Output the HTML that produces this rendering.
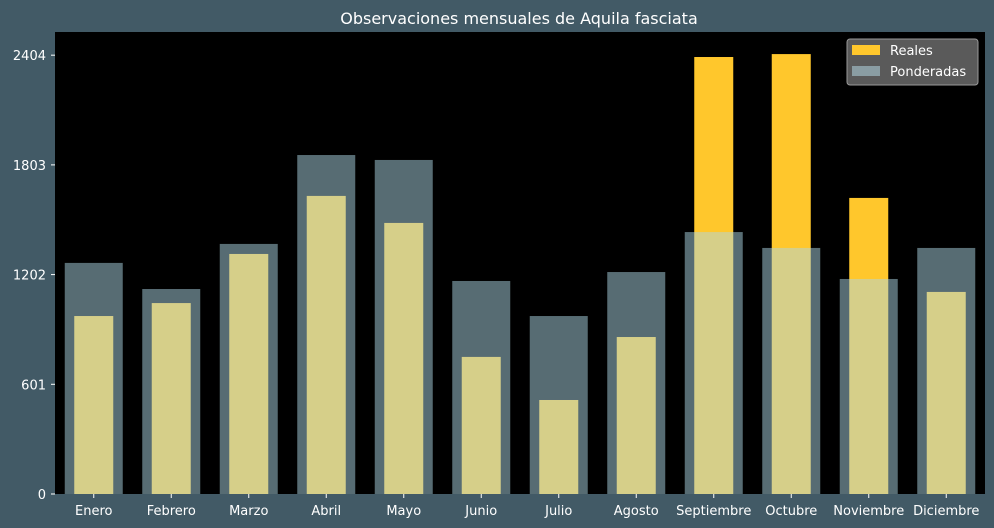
<!DOCTYPE html>
<html><head><meta charset="utf-8"><style>
body{margin:0;background:#425a66;}
svg{display:block;font-family:"DejaVu Sans","Liberation Sans",sans-serif;}
</style></head><body>
<svg id="chart" width="994" height="528" viewBox="0 0 994 528">
<rect x="0" y="0" width="994" height="528" fill="#425a66"/>
<text x="519" y="24" fill="#ffffff" font-size="16" text-anchor="middle">Observaciones mensuales de Aquila fasciata</text>
<rect x="55" y="32" width="930" height="462" fill="#000000"/>
<g id="bars"></g>
<g id="axes"></g>
<g>
<rect x="847" y="39" width="131" height="46" rx="3" fill="#5a5a5a" stroke="#999" stroke-width="1"/>
<rect x="852" y="45" width="28" height="10" fill="#ffc72c"/>
<text x="890" y="55" fill="#fff" font-size="13">Reales</text>
<rect x="852" y="66" width="28" height="10" fill="#8a9da3"/>
<text x="890" y="76" fill="#fff" font-size="13">Ponderadas</text>
</g>
</svg>
<script>
const categories=["Enero","Febrero","Marzo","Abril","Mayo","Junio","Julio","Agosto","Septiembre","Octubre","Noviembre","Diciembre"];
const reales=[975,1046,1315,1633,1485,751,515,860,2394,2410,1622,1107];
const ponderadas=[1266,1123,1370,1857,1830,1167,975,1216,1435,1348,1178,1348];
const yTicks=[0,601,1202,1803,2404];
const NS="http://www.w3.org/2000/svg";
const plotLeft=55,plotRight=985,plotBottom=494,plotTop=32,yMax=2531;
const step=(plotRight-plotLeft)/categories.length;
const xc=i=>plotLeft+step*(i+0.5);
const yS=v=>plotBottom-(v/yMax)*(plotBottom-plotTop);
const barsG=document.getElementById('bars'),axesG=document.getElementById('axes');
function mk(tag,attrs,parent){const e=document.createElementNS(NS,tag);for(const k in attrs)e.setAttribute(k,attrs[k]);parent.appendChild(e);return e;}
categories.forEach((c,i)=>{
  const r=mk('rect',{x:xc(i)-19.5,y:yS(reales[i]),width:39,height:plotBottom-yS(reales[i]),fill:'#ffc72c'},barsG);
  
  
});
categories.forEach((c,i)=>{
  const r=mk('rect',{x:xc(i)-29,y:yS(ponderadas[i]),width:58,height:plotBottom-yS(ponderadas[i]),fill:'rgb(173,216,230)','fill-opacity':0.5},barsG);
  
  
  const t=mk('text',{x:xc(i),y:plotBottom+21,fill:'#fff','font-size':13,'text-anchor':'middle'},axesG);
  t.textContent=c;
  
  
  const tk=mk('line',{x1:xc(i),x2:xc(i),y1:plotBottom,y2:plotBottom+4,stroke:'#fff'},axesG);
  
  
});
yTicks.forEach(v=>{
  const t=mk('text',{x:46,y:yS(v)+5,fill:'#fff','font-size':13,'text-anchor':'end'},axesG);
  t.textContent=v;
  
  
  const tk=mk('line',{x1:51,x2:55,y1:yS(v),y2:yS(v),stroke:'#fff'},axesG);
  
  
});
</script>
</body></html>
